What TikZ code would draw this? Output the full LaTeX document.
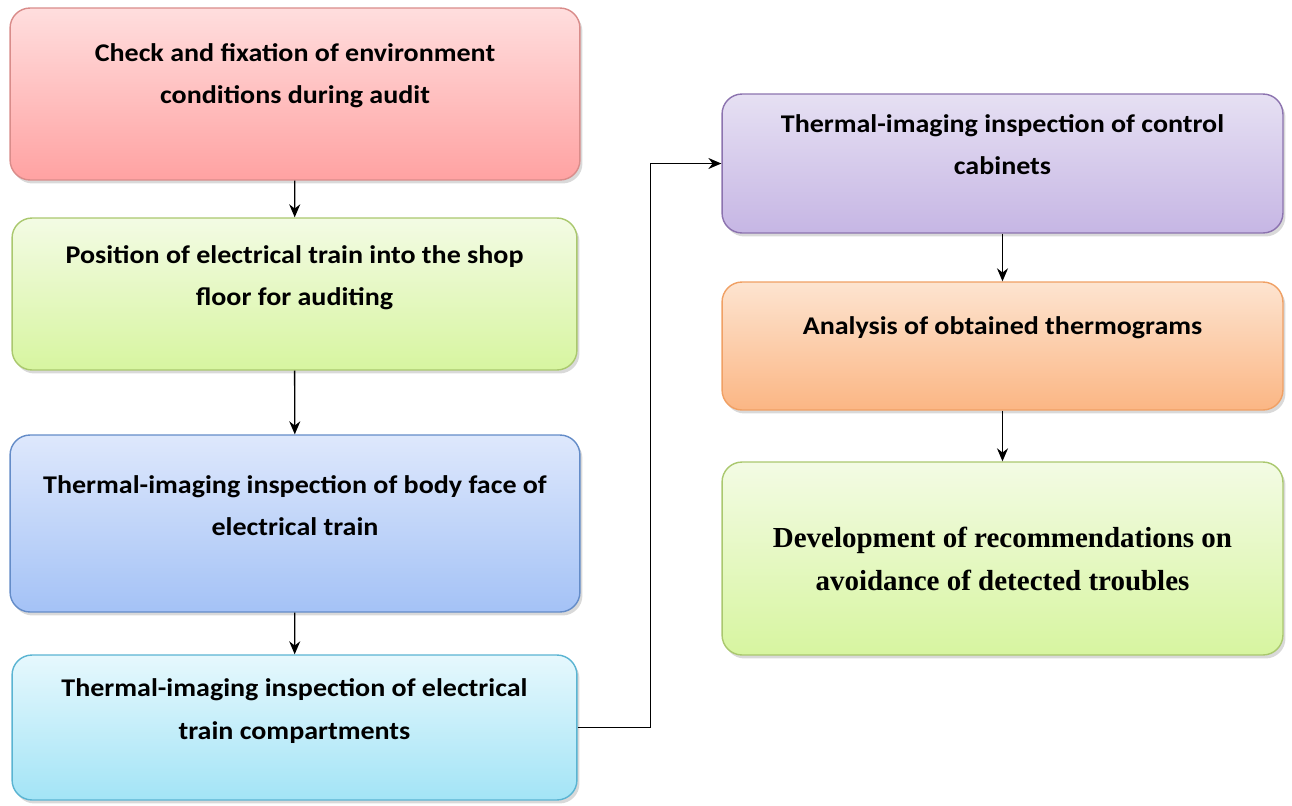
\documentclass[tikz,border=0pt]{standalone}
\usepackage{fontspec}
\setmainfont{Carlito}[FakeStretch=1.1]
\newfontfamily\serifbold{Liberation Serif}
\usetikzlibrary{shadows,arrows.meta}

\definecolor{redtop}{RGB}{255,222,222}
\definecolor{redbot}{RGB}{255,162,162}
\definecolor{redline}{RGB}{217,140,138}
\definecolor{greentop}{RGB}{243,251,228}
\definecolor{greenbot}{RGB}{215,245,160}
\definecolor{greenline}{RGB}{170,200,110}
\definecolor{bluetop}{RGB}{222,232,252}
\definecolor{bluebot}{RGB}{164,194,246}
\definecolor{blueline}{RGB}{100,140,200}
\definecolor{cyantop}{RGB}{230,248,253}
\definecolor{cyanbot}{RGB}{163,228,246}
\definecolor{cyanline}{RGB}{90,180,210}
\definecolor{purpletop}{RGB}{230,224,243}
\definecolor{purplebot}{RGB}{198,182,228}
\definecolor{purpleline}{RGB}{140,115,175}
\definecolor{orangetop}{RGB}{253,228,208}
\definecolor{orangebot}{RGB}{251,182,132}
\definecolor{orangeline}{RGB}{240,160,100}

\begin{document}
\begin{tikzpicture}[x=0.02cm, y=-0.02cm,
    box/.style={draw, rounded corners=0.4cm, line width=0.8pt,
      drop shadow={shadow xshift=0.05cm, shadow yshift=-0.07cm, opacity=0.3}},
    txt/.style={align=center, font=\bfseries\fontsize{14.5}{24}\selectfont},
    flow/.style={-{Stealth[length=2.6mm,width=2.2mm]}, line width=0.8pt}]

    \useasboundingbox (0,0) rectangle (1292,805);

    % left column
    \node[box, top color=redtop, bottom color=redbot, draw=redline,
      minimum width=11.4cm, minimum height=3.44cm] (check) at (295,94) {};
    \node[txt] (checkt) at (295,76) {Check and fixation of environment\\conditions during audit};

    \node[box, top color=greentop, bottom color=greenbot, draw=greenline,
      minimum width=11.3cm, minimum height=3.04cm] (position) at (294.5,294) {};
    \node[txt] (positiont) at (294.5,278) {Position of electrical train into the shop\\floor for auditing};

    \node[box, top color=bluetop, bottom color=bluebot, draw=blueline,
      minimum width=11.4cm, minimum height=3.54cm] (body) at (295,523.5) {};
    \node[txt] (bodyt) at (295,506) {Thermal-imaging inspection of body face of\\electrical train};

    \node[box, top color=cyantop, bottom color=cyanbot, draw=cyanline,
      minimum width=11.3cm, minimum height=2.9cm] (compart) at (294.5,727.5) {};
    \node[txt] (compartt) at (294.5,711) {Thermal-imaging inspection of electrical\\train compartments};

    % right column
    \node[box, top color=purpletop, bottom color=purplebot, draw=purpleline,
      minimum width=11.22cm, minimum height=2.78cm] (cabinet) at (1002.5,163.5) {};
    \node[txt] (cabinett) at (1002.5,145) {Thermal-imaging inspection of control\\cabinets};

    \node[box, top color=orangetop, bottom color=orangebot, draw=orangeline,
      minimum width=11.22cm, minimum height=2.56cm] (analysis) at (1002.5,346) {};
    \node[txt] (analysist) at (1002.5,328) {Analysis of obtained thermograms};

    \node[box, top color=greentop, bottom color=greenbot, draw=greenline,
      minimum width=11.22cm, minimum height=3.86cm] (recom) at (1002.5,558.5) {};
    \node[align=center, font=\serifbold\bfseries\fontsize{16.5}{24}\selectfont] (recomt) at (1002.5,559)
      {Development of recommendations on\\avoidance of detected troubles};

    % connectors
    \draw[flow] (check) -- (position);
    \draw[flow] (position) -- (body);
    \draw[flow] (body) -- (compart);
    \draw[flow] (compart.east) -- ++(73,0) |- (cabinet.west);
    \draw[flow] (cabinet) -- (analysis);
    \draw[flow] (analysis) -- (recom);

\end{tikzpicture}
\end{document}
